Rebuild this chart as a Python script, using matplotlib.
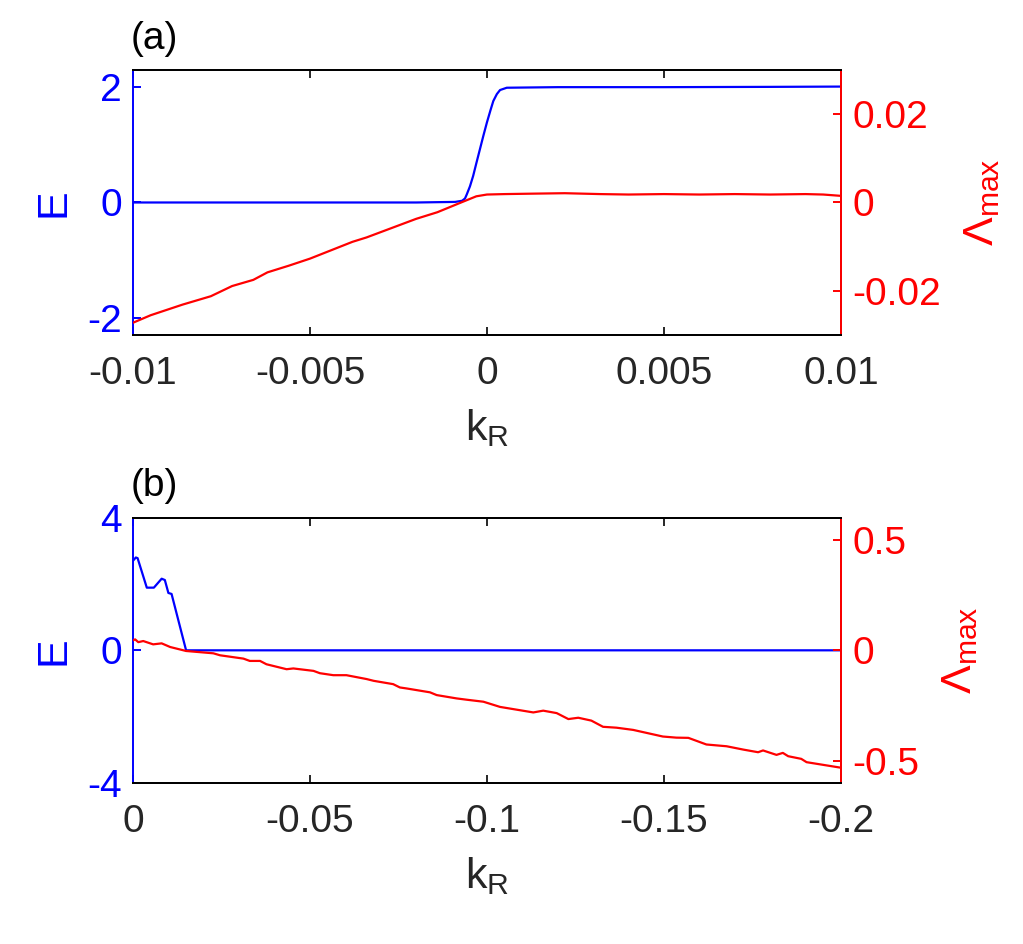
import matplotlib
matplotlib.use("Agg")
import matplotlib.pyplot as plt

plt.rcParams['font.family'] = ['Liberation Sans', 'DejaVu Sans']
plt.rcParams['mathtext.fontset'] = 'custom'
plt.rcParams['mathtext.rm'] = 'Liberation Sans'
plt.rcParams['mathtext.it'] = 'Liberation Sans'
plt.rcParams['axes.unicode_minus'] = False

# Panel (a) data
ka_E = [-0.01, -0.002, -0.0009, -0.0007, -0.00062, -0.00057, -0.00048,
        -0.00039, -0.0003, -0.0002, -0.0001, 0.0, 0.0001, 0.00018, 0.00028,
        0.00037, 0.00056, 0.002, 0.005, 0.008, 0.01]
Ea = [0, 0, 0.01, 0.03, 0.07, 0.14, 0.28, 0.46, 0.68, 0.92, 1.16, 1.39, 1.6,
      1.76, 1.88, 1.95, 1.99, 2.0, 2.0, 2.005, 2.01]
ka_L = [-0.01, -0.0095, -0.0086, -0.0078, -0.0072, -0.0066, -0.0062, -0.0056,
        -0.005, -0.0044, -0.0038, -0.0034, -0.0027, -0.002, -0.0014, -0.0007,
        -0.0003, 0.0, 0.0005, 0.0013, 0.0022, 0.0032, 0.004, 0.005, 0.006,
        0.007, 0.008, 0.009, 0.0095, 0.01]
La = [-0.0272, -0.0255, -0.0231, -0.0212, -0.0189, -0.0175, -0.0158, -0.0143,
      -0.0127, -0.0108, -0.0089, -0.0079, -0.0058, -0.0037, -0.0022, 0.0001,
      0.0014, 0.0018, 0.0019, 0.0020, 0.0021, 0.0019, 0.0018, 0.0019, 0.0018,
      0.0019, 0.0018, 0.0019, 0.0018, 0.0015]

# Panel (b) data
kb_E = [0, -0.0008, -0.0013, -0.0039, -0.0059, -0.0081, -0.009, -0.0100,
        -0.0109, -0.015, -0.2]
Eb = [2.7, 2.8, 2.78, 1.89, 1.89, 2.16, 2.12, 1.73, 1.70, 0, 0]
kb_L = [0, -0.0006, -0.0015, -0.0029, -0.0057, -0.0081, -0.0105, -0.015,
        -0.0227, -0.0246, -0.0312, -0.033, -0.0359, -0.0377, -0.0434, -0.0453,
        -0.051, -0.0528, -0.0566, -0.0603, -0.066, -0.068, -0.0735, -0.0754,
        -0.0773, -0.0839, -0.0858, -0.0914, -0.0943, -0.099, -0.1037, -0.1131,
        -0.1159, -0.1197, -0.1230, -0.1258, -0.1295, -0.1328, -0.1366, -0.1413,
        -0.1497, -0.1535, -0.1569, -0.1620, -0.1677, -0.1724, -0.1766, -0.1780,
        -0.1818, -0.1836, -0.1851, -0.1888, -0.1903, -0.1992, -0.2]
Lb = [0.045, 0.0495, 0.037, 0.042, 0.027, 0.0315, 0.015, -0.003,
      -0.0135, -0.0225, -0.0375, -0.048, -0.048, -0.063, -0.0855, -0.082,
      -0.093, -0.1035, -0.1125, -0.1125, -0.13, -0.138, -0.153, -0.168,
      -0.1725, -0.19, -0.2025, -0.2175, -0.2235, -0.2325, -0.256, -0.281,
      -0.273, -0.284, -0.311, -0.305, -0.318, -0.346, -0.35, -0.36,
      -0.39, -0.395, -0.396, -0.426, -0.434, -0.449, -0.461, -0.453,
      -0.473, -0.464, -0.479, -0.491, -0.506, -0.529, -0.531]

FS = 28      # tick labels
LFS = 31     # axis labels
GRAY = (0.15, 0.15, 0.15)
LW_AX = 1.4

fig = plt.figure(figsize=(10.23, 9.44), dpi=100)


def panel(rect, kE, E, kL, L, xlim, xticks, xlabels, eylim, eticks,
          lylim, lticks, llabels, tag):
    ax = fig.add_axes(rect)
    ax.plot(kE, E, color='blue', lw=1.6)
    ax.set_xlim(*xlim)
    ax.set_ylim(*eylim)
    ax.set_xticks(xticks)
    ax.set_xticklabels(xlabels)
    ax.set_yticks(eticks)
    ax.set_yticklabels([str(t) for t in eticks])
    ax.tick_params(axis='x', direction='in', length=6, width=LW_AX,
                   colors=GRAY, labelsize=FS, top=True, pad=15)
    ax.tick_params(axis='y', direction='in', length=6, width=LW_AX,
                   colors='blue', labelsize=FS, pad=8)
    ax.spines['left'].set_color('blue')
    ax.spines['bottom'].set_color(GRAY)
    ax.spines['top'].set_color(GRAY)
    for s in ax.spines.values():
        s.set_linewidth(LW_AX)
    ax.set_ylabel('E', color='blue', fontsize=LFS, labelpad=10)
    ax.set_xlabel(r'k$_\mathrm{R}$', color=GRAY, fontsize=LFS, labelpad=11)
    ax.text(-0.004, 1.05, tag, transform=ax.transAxes, fontsize=FS,
            ha='left', va='bottom')

    ax2 = ax.twinx()
    ax2.plot(kL, L, color='red', lw=1.6)
    ax2.set_ylim(*lylim)
    ax2.set_yticks(lticks)
    ax2.set_yticklabels(llabels)
    ax2.tick_params(axis='y', direction='in', length=6, width=LW_AX,
                    colors='red', labelsize=FS, pad=8)
    ax2.spines['right'].set_color('red')
    ax2.spines['left'].set_visible(False)
    for s in ax2.spines.values():
        s.set_linewidth(LW_AX)
    ax2.set_ylabel(r'$\mathrm{\Lambda}_\mathrm{max}$', color='red',
                   fontsize=LFS, labelpad=15)
    return ax, ax2


panel([0.130, 0.645, 0.692, 0.281], ka_E, Ea, ka_L, La,
      (-0.01, 0.01), [-0.01, -0.005, 0, 0.005, 0.01],
      ['-0.01', '-0.005', '0', '0.005', '0.01'],
      (-2.3, 2.3), [-2, 0, 2],
      (-0.03, 0.03), [-0.02, 0, 0.02], ['-0.02', '0', '0.02'], '(a)')

panel([0.130, 0.1706, 0.692, 0.281], kb_E, Eb, kb_L, Lb,
      (0, -0.2), [0, -0.05, -0.1, -0.15, -0.2],
      ['0', '-0.05', '-0.1', '-0.15', '-0.2'],
      (-4, 4), [-4, 0, 4],
      (-0.6, 0.6), [-0.5, 0, 0.5], ['-0.5', '0', '0.5'], '(b)')

fig.savefig('out.png', dpi=100)
